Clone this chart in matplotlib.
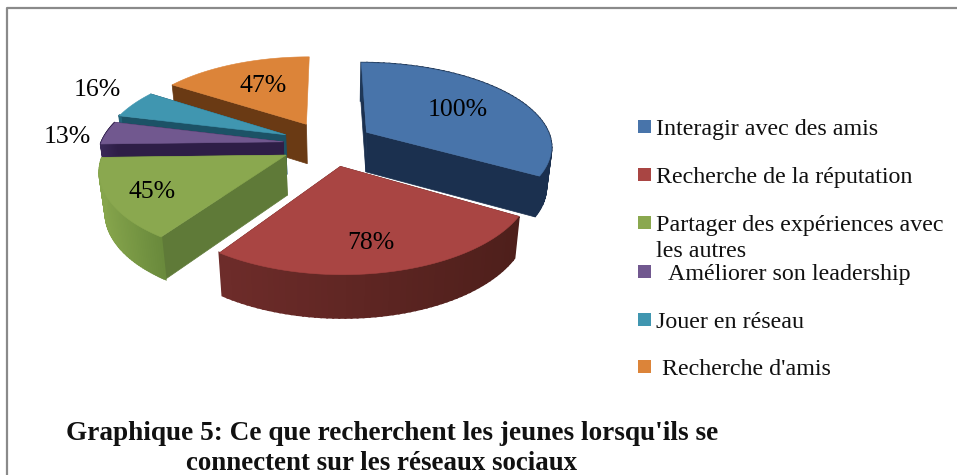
import numpy as np
import matplotlib
matplotlib.use("Agg")
import matplotlib.pyplot as plt
from matplotlib.patches import Polygon, Rectangle

categories = ["Interagir avec des amis", "Recherche de la réputation",
              "Partager des expériences avec\nles autres", "Améliorer son leadership",
              "Jouer en réseau", "Recherche d'amis"]
values = [100, 78, 45, 13, 16, 47]

top_col = ["#4874AA", "#A94543", "#8AA84F", "#71588F", "#4096B0", "#DC8439"]
wall_col = ["#1B304F", "#5A2420", "#5F7A38", "#2E1E47", "#1C5266", "#6A3A14"]
rim_dark = ["#1B304F", "#4E1F1B", "#6A8A3C", "#2E1E47", "#1C5266", "#6A3A14"]
rim_light = ["#1F3858", "#6E2C2A", "#86A54C", "#3A2958", "#24647A", "#7A4418"]
explode = [0.24, 0.288, 0.25, 0.24, 0.25, 0.25]
radius_x = [0.985, 0.96, 0.955, 0.97, 0.97, 0.97]
nudge_y = [0, 0, 3, 2, 1, 0]
hide_end_wall = [5]
draw_order = [0, 5, 4, 3, 2, 1]
label_xy = [(458, 110), (371, 243), (152, 192), (67, 137), (97, 90), (263, 86)]
legend_y = [129.5, 177.5, 225.5, 274.5, 322.5, 369.5]
legend_x = [656, 656, 656, 668, 656, 662]

CX, CY, A, B, K, VX = 328, 142, 188, 83, 0.155, 340

plt.rcParams["font.family"] = ["Liberation Serif", "DejaVu Serif"]
fig = plt.figure(figsize=(9.57, 4.75), dpi=100)
ax = fig.add_axes([0, 0, 1, 1])
ax.set_xlim(0, 957)
ax.set_ylim(475, 0)
ax.axis("off")


def project(u, v):
    w = 1 + K * v
    return CX + A * u / w, CY - B * v / w


def lower(x, y):
    return VX + (x - VX) * 0.975, y + 40 + (y - 150) * 0.025


def blend(c1, c2, t):
    a = np.array(matplotlib.colors.to_rgb(c1))
    b = np.array(matplotlib.colors.to_rgb(c2))
    return tuple(a + (b - a) * t)


total = sum(values)
fractions = np.array(values) / total * 2 * np.pi
starts = np.concatenate([[0], np.cumsum(fractions)[:-1]])

for i in draw_order:
    t0, t1 = starts[i], starts[i] + fractions[i]
    mid = (t0 + t1) / 2
    ou, ov = explode[i] * np.sin(mid), explode[i] * np.cos(mid)
    th = np.linspace(t0, t1, 60)
    rx, ry = project(ou + radius_x[i] * np.sin(th), ov + np.cos(th))
    ry = ry + nudge_y[i]
    ax_, ay_ = project(ou, ov)
    ay_ = ay_ + nudge_y[i]
    walls = [(rx[0], ry[0])]
    if i not in hide_end_wall:
        walls.append((rx[-1], ry[-1]))
    walls.sort(key=lambda p: p[1])
    for wx, wy in walls:
        lx0, ly0 = lower(ax_, ay_)
        lx1, ly1 = lower(wx, wy)
        ax.add_patch(Polygon([(ax_, ay_), (wx, wy), (lx1, ly1), (lx0, ly0)],
                             closed=True, fc=wall_col[i], ec=wall_col[i], lw=0.5, zorder=2))
    lx, ly = lower(rx, ry)
    span = np.ptp(rx) or 1
    for j in range(len(th) - 1):
        if np.cos(th[j]) > 0.25 and i != 0:
            continue
        t = (rx.max() - rx[j]) / span
        col = blend(rim_dark[i], rim_light[i], t)
        ax.add_patch(Polygon([(rx[j], ry[j]), (rx[j + 1], ry[j + 1]), (lx[j + 1], ly[j + 1]), (lx[j], ly[j])],
                             closed=True, fc=col, ec=col, lw=1.5, zorder=2))
    pts = [(ax_, ay_)] + list(zip(rx, ry))
    ax.add_patch(Polygon(pts, closed=True, fc=top_col[i], ec=top_col[i], lw=0.4, zorder=2))

for (x, y), v in zip(label_xy, values):
    ax.text(x, y, f"{v}%", fontsize=18.5, ha="center", va="center", color="black", zorder=5)

for cat, x, y, col in zip(categories, legend_x, legend_y, top_col):
    ax.add_patch(Rectangle((638, y - 9.5), 13, 13, fc=col, ec="none", zorder=5))
    first, *rest = cat.split("\n")
    ax.text(x, y, first, fontsize=17.25, ha="left", va="center", color="#111111", zorder=5)
    if rest:
        ax.text(x, y + 26, rest[0], fontsize=17.25, ha="left", va="center", color="#111111", zorder=5)

ax.text(392, 433, "Graphique 5: Ce que recherchent les jeunes lorsqu'ils se", fontsize=19.6,
        fontweight="bold", ha="center", va="center", color="#111111")
ax.text(382, 464, "connectent sur les réseaux sociaux", fontsize=19.4,
        fontweight="bold", ha="center", va="center", color="#111111")

ax.plot([7, 7, 957], [475, 8, 8], color="#8A8A8A", lw=1.6, solid_capstyle="butt", zorder=1)

fig.savefig("out.png", dpi=100)
